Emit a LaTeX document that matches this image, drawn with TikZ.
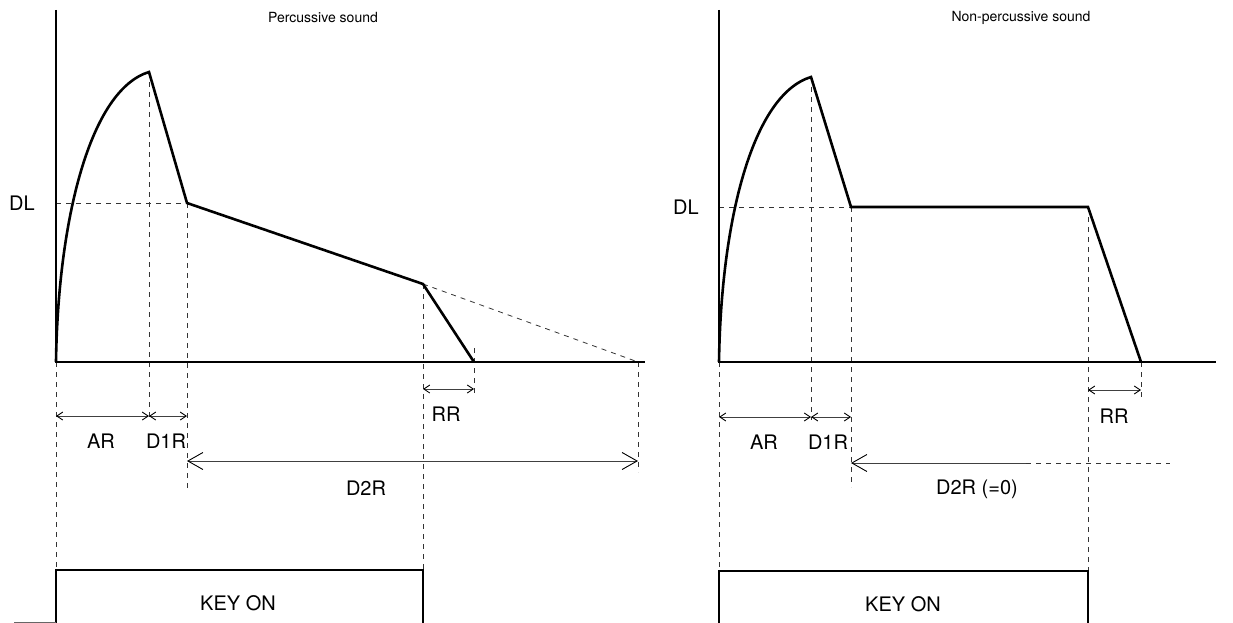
\documentclass[tikz,border=0pt]{standalone}
\usepackage{fontspec}
\setmainfont{TeX Gyre Heros}
\usetikzlibrary{arrows.meta}
\begin{document}
\begin{tikzpicture}[x=1pt,y=-1pt,
  axis/.style={line width=1.6pt},
  env/.style={line width=2.6pt, line join=miter},
  guide/.style={line width=0.8pt, dash pattern=on 5pt off 5pt, black!80},
  dimsmall/.style={line width=0.9pt, black!75, {Straight Barb[length=6pt,width=8pt,black]}-{Straight Barb[length=6pt,width=8pt,black]}},
  dimbig/.style={line width=0.9pt, black!75, {Straight Barb[length=15pt,width=17pt,black]}-{Straight Barb[length=15pt,width=17pt,black]}},
  dimleft/.style={line width=0.9pt, black!75, {Straight Barb[length=15pt,width=17pt,black]}-},
  lbl/.style={font=\fontsize{20}{22}\selectfont, inner sep=0pt},
  ttl/.style={font=\fontsize{14}{16}\selectfont, inner sep=0pt},
  keybox/.style={line width=1.6pt}
]
\useasboundingbox (0,0) rectangle (1233,623);

% ---------- left panel ----------
\coordinate (L0) at (56,362);
\coordinate (Ltop) at (56,10);
\coordinate (Lend) at (645,362);
\coordinate (Lpk) at (149,72);
\coordinate (Ld1) at (187,203);
\coordinate (Ldl) at (56,203);
\coordinate (Lko) at (423,284);
\coordinate (Lrr) at (474,362);
\coordinate (Ld2) at (638,362);

\draw[guide] (Ldl) -- (Ld1);
\draw[guide] (Lko) -- (Ld2);
\draw[guide] (L0) -- (56,570);
\draw[guide] (Lpk) -- (149,420);
\draw[guide] (Ld1) -- (187,490);
\draw[guide] (Lko) -- (423,570);
\draw[guide] (474,348) -- (474,396);
\draw[guide] (Ld2) -- (638,472);

\draw[axis] (Ltop) -- (L0) -- (Lend);
\draw[env] (L0) .. controls (58,220) and (90,90) .. (Lpk) -- (Ld1) -- (Lko) -- (Lrr);

\coordinate (LarA) at (56,416);
\coordinate (LarB) at (149,416);
\coordinate (LarC) at (187,416);
\draw[dimsmall] (LarA) -- (LarB);
\draw[dimsmall] (LarB) -- (LarC);
\coordinate (Ld2A) at (187,461);
\coordinate (Ld2B) at (638,461);
\draw[dimbig] (Ld2A) -- (Ld2B);
\coordinate (LrrA) at (423,389);
\coordinate (LrrB) at (474,389);
\draw[dimsmall] (LrrA) -- (LrrB);

\node[lbl] (LDL) at (22,203) {DL};
\node[lbl] (LAR) at (101,441) {AR};
\node[lbl] (LD1R) at (166,441) {D1R};
\node[lbl] (LD2R) at (366,488) {D2R};
\node[lbl] (LRR) at (446,414) {RR};
\node[ttl] (Ltitle) at (323,18) {Percussive sound};

\draw[keybox] (56,623) -- (56,570) -- (423,570) -- (423,623);
\draw[line width=0.8pt, black!60] (14,622) -- (56,622);
\node[lbl] (Lkey) at (238,603) {KEY ON};

% ---------- right panel ----------
\coordinate (R0) at (719,362);
\coordinate (Rtop) at (719,10);
\coordinate (Rend) at (1216,362);
\coordinate (Rpk) at (811,77);
\coordinate (Rd1) at (851,207);
\coordinate (Rdl) at (719,207);
\coordinate (Rko) at (1088,207);
\coordinate (Rrr) at (1141,362);

\draw[guide] (Rdl) -- (Rd1);
\draw[guide] (R0) -- (719,571);
\draw[guide] (Rpk) -- (811,420);
\draw[guide] (Rd1) -- (851,487);
\draw[guide] (Rko) -- (1088,571);
\draw[guide] (Rrr) -- (1141,399);

\draw[axis] (Rtop) -- (R0) -- (Rend);
\draw[env] (R0) .. controls (721,222) and (752,95) .. (Rpk) -- (Rd1) -- (Rko) -- (Rrr);

\coordinate (RarA) at (719,417);
\coordinate (RarB) at (811,417);
\coordinate (RarC) at (851,417);
\draw[dimsmall] (RarA) -- (RarB);
\draw[dimsmall] (RarB) -- (RarC);
\coordinate (Rd2A) at (851,463);
\coordinate (Rd2M) at (1026,463);
\coordinate (Rd2B) at (1170,463);
\draw[dimleft] (Rd2A) -- (Rd2M);
\draw[guide] (Rd2M) -- (Rd2B);
\coordinate (RrrA) at (1088,390);
\coordinate (RrrB) at (1141,390);
\draw[dimsmall] (RrrA) -- (RrrB);

\node[lbl] (RDL) at (686,207) {DL};
\node[lbl] (RAR) at (764,442) {AR};
\node[lbl] (RD1R) at (828,442) {D1R};
\node[lbl] (RD2R) at (977,489) {D2R (=0)};
\node[lbl] (RRR) at (1114,416) {RR};
\node[ttl] (Rtitle) at (1021,18) {Non-percussive sound};

\draw[keybox] (719,623) -- (719,571) -- (1088,571) -- (1088,623);
\node[lbl] (Rkey) at (903,604) {KEY ON};
\end{tikzpicture}
\end{document}
